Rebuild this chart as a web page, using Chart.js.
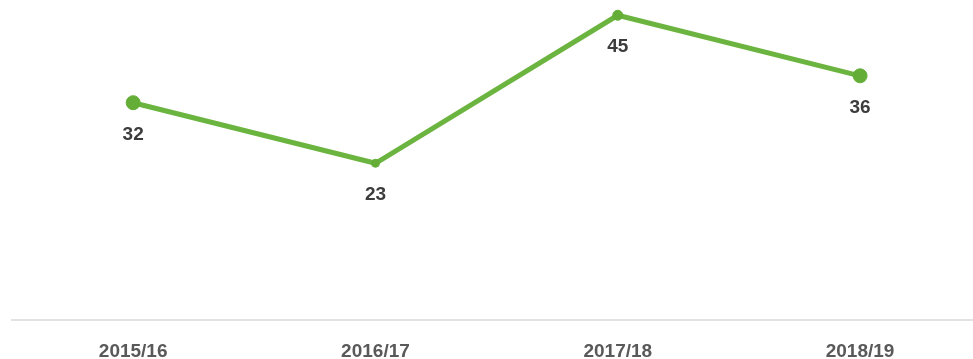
<!DOCTYPE html>
<html>
<head>
<meta charset="utf-8">
<script src="https://cdn.jsdelivr.net/npm/chart.js@4/dist/chart.umd.min.js"></script>
<style>
  html, body { margin: 0; padding: 0; background: #fff; }
  #wrap { width: 973px; height: 359px; position: relative; }
</style>
</head>
<body>
<div id="wrap"><canvas id="chart_trend"></canvas></div>
<script>
let seasons = ['2015/16', '2016/17', '2017/18', '2018/19'];
let values = [32, 23, 45, 36];
let pointSizes = [7, 4, 5, 7];

// value labels drawn under each point
let valueLabels = {
    id: 'valueLabels',
    afterDatasetsDraw(chart) {
        let ctx = chart.ctx;
        let meta = chart.getDatasetMeta(0);
        ctx.save();
        ctx.font = 'bold 19px "Liberation Sans", Arial, sans-serif';
        ctx.fillStyle = '#3c3c3c';
        ctx.textAlign = 'center';
        ctx.textBaseline = 'middle';
        meta.data.forEach((pt, i) => {
            ctx.fillText(values[i], pt.x, pt.y + 32);
        });
        ctx.restore();
    }
};

// stretch the axis border out to the right edge of the canvas
let axisLine = {
    id: 'axisLine',
    beforeDatasetsDraw(chart) {
        let ctx = chart.ctx;
        let y = chart.chartArea.bottom;
        ctx.save();
        ctx.strokeStyle = '#e2e2e2';
        ctx.lineWidth = 2;
        ctx.beginPath();
        ctx.moveTo(chart.chartArea.right, y);
        ctx.lineTo(chart.width, y);
        ctx.stroke();
        ctx.restore();
    }
};

let ctx_trend = document.getElementById("chart_trend");
let chart_trend = new Chart(ctx_trend, {
    type: 'line',
    data: {
        datasets: [{
            data: values.map((v, i) => ({ x: i, y: v })),
            borderColor: '#6cb440',
            borderWidth: 5,
            pointRadius: pointSizes,
            pointBackgroundColor: '#64ae38',
            pointBorderColor: '#64ae38',
            pointBorderWidth: 1,
            tension: 0
        }]
    },
    options: {
        responsive: true,
        maintainAspectRatio: false,
        animation: false,
        layout: { padding: { left: 12, right: 0, top: 0, bottom: 0 } },
        plugins: {
            legend: { display: false },
            tooltip: { enabled: false }
        },
        scales: {
            x: {
                type: 'linear',
                min: -0.5,
                max: 3.433,
                afterBuildTicks: axis => {
                    axis.ticks = seasons.map((s, i) => ({ value: i }));
                },
                afterFit: axis => {
                    axis.height = 39;
                },
                ticks: {
                    autoSkip: false,
                    maxRotation: 0,
                    padding: 20,
                    color: '#595959',
                    font: { family: '"Liberation Sans", Arial, sans-serif', size: 19, weight: 'bold' },
                    callback: v => seasons[v]
                },
                grid: { display: false, drawTicks: false },
                border: { display: true, color: '#e2e2e2', width: 2 }
            },
            y: {
                display: false,
                min: -0.3,
                max: 46.08
            }
        }
    },
    plugins: [valueLabels, axisLine]
});
</script>
</body>
</html>
